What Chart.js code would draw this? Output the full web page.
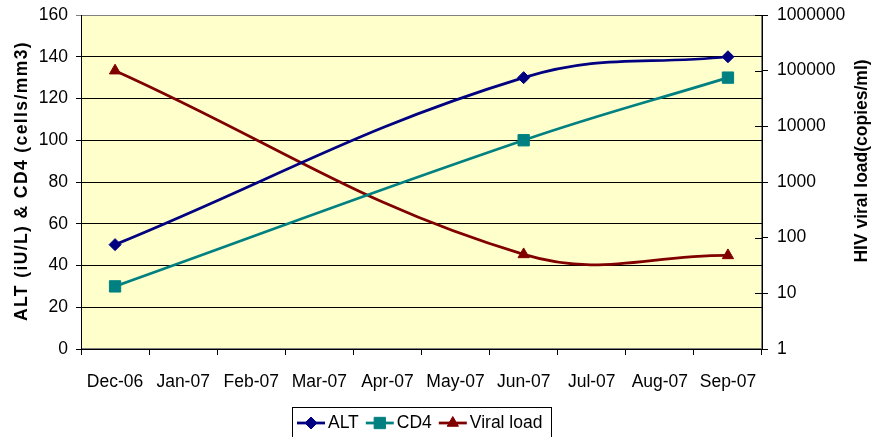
<!DOCTYPE html>
<html>
<head>
<meta charset="utf-8">
<script src="https://cdn.jsdelivr.net/npm/chart.js@4.4.1/dist/chart.umd.min.js"></script>
<style>
  html, body { margin: 0; padding: 0; background: #ffffff; }
  #wrap { width: 877px; height: 437px; }
</style>
</head>
<body>
<div id="wrap"><canvas id="hivChart" width="877" height="437"></canvas></div>
<script>
// values
const months = ['Dec-06', 'Jan-07', 'Feb-07', 'Mar-07', 'Apr-07', 'May-07', 'Jun-07', 'Jul-07', 'Aug-07', 'Sep-07'];
const altValues = [50, null, null, null, null, null, 130, null, null, 140];
const cd4Values = [30, null, null, null, null, null, 100, null, null, 130];
const viralLoad = [100000, null, null, null, null, null, 50, null, null, 48];
const leftTicks = [0, 20, 40, 60, 80, 100, 120, 140, 160];
const rightTicks = [1, 10, 100, 1000, 10000, 100000, 1000000];
const leftTitle = 'ALT (iU/L) & CD4 (cells/mm3)';
const rightTitle = 'HIV viral load(copies/ml)';

const FONT = "'Liberation Sans', Arial, sans-serif";
Chart.defaults.font.family = FONT;
Chart.defaults.font.size = 17.5;
Chart.defaults.color = '#000000';

// yellow plot area with a grey frame, like the Excel original
const plotBackground = {
    id: 'plotBackground',
    beforeDraw(chart) {
        const { ctx, chartArea: a } = chart;
        ctx.save();
        ctx.fillStyle = '#FFFFCC';
        ctx.fillRect(a.left, a.top, a.right - a.left, a.bottom - a.top);
        ctx.strokeStyle = '#808080';
        ctx.lineWidth = 1;
        ctx.strokeRect(a.left + 0.5, a.top + 0.5, a.right - a.left - 1, a.bottom - a.top - 1);
        ctx.restore();
    }
};

function upwardText(ctx, text, x, y, spacing) {
    ctx.save();
    ctx.fillStyle = '#000000';
    ctx.font = 'bold 17.5px ' + FONT;
    ctx.letterSpacing = spacing;
    ctx.textAlign = 'center';
    ctx.textBaseline = 'middle';
    ctx.translate(x, y);
    ctx.rotate(-Math.PI / 2);
    ctx.fillText(text, 0, 0);
    ctx.restore();
}

// axis titles (both read upwards), inner tick marks and the framed legend
const extras = {
    id: 'extras',
    afterDraw(chart) {
        const { ctx, chartArea: a } = chart;
        const y1 = chart.scales.y1;
        ctx.save();

        ctx.strokeStyle = '#000000';
        ctx.lineWidth = 1;
        y1.ticks.forEach(t => {
            const py = Math.round(y1.getPixelForValue(t.value)) + 0.5;
            ctx.beginPath();
            ctx.moveTo(a.right - 7, py);
            ctx.lineTo(a.right, py);
            ctx.stroke();
        });

        upwardText(ctx, leftTitle, 22, 181, '1.4px');
        upwardText(ctx, rightTitle, 862, 161, '0px');

        // legend
        ctx.strokeStyle = '#000000';
        ctx.strokeRect(292.5, 407.5, 259, 40);
        ctx.font = '17.5px ' + FONT;
        ctx.textAlign = 'left';
        ctx.textBaseline = 'middle';
        let x = 297;
        const ly = 423;
        chart.data.datasets.forEach(ds => {
            ctx.strokeStyle = ds.borderColor;
            ctx.lineWidth = 2.75;
            ctx.beginPath();
            ctx.moveTo(x, ly);
            ctx.lineTo(x + 28, ly);
            ctx.stroke();
            ctx.fillStyle = ds.borderColor;
            ctx.lineWidth = 1;
            Chart.helpers.drawPoint(ctx, {
                pointStyle: ds.pointStyle, radius: ds.pointRadius, rotation: 0, borderWidth: 1
            }, x + 14, ly);
            ctx.fillStyle = '#000000';
            ctx.fillText(ds.label, x + 31, ly);
            x += 31 + ctx.measureText(ds.label).width + 7;
        });
        ctx.restore();
    }
};

// fixed axis sizes so the plot area sits where it does in the original
function fixWidth(w) {
    return s => { s.width = w; s.paddingTop = 0; s.paddingBottom = 0; };
}

new Chart(document.getElementById('hivChart'), {
    type: 'line',
    data: {
        labels: months,
        datasets: [
            {
                label: 'ALT',
                data: altValues,
                yAxisID: 'y',
                borderColor: '#000080',
                backgroundColor: '#000080',
                pointStyle: 'rectRot',
                pointRadius: 6
            },
            {
                label: 'CD4',
                data: cd4Values,
                yAxisID: 'y',
                borderColor: '#008080',
                backgroundColor: '#008080',
                pointStyle: 'rect',
                pointRadius: 8
            },
            {
                label: 'Viral load',
                data: viralLoad,
                yAxisID: 'y1',
                borderColor: '#800000',
                backgroundColor: '#800000',
                pointStyle: 'triangle',
                pointRadius: 6.5
            }
        ]
    },
    options: {
        responsive: false,
        animation: false,
        devicePixelRatio: 1,
        spanGaps: true,
        datasets: {
            line: {
                borderWidth: 2.75,
                tension: 0.4,
                fill: false,
                pointBorderWidth: 1,
                pointHoverRadius: 6
            }
        },
        layout: { padding: { top: 15, left: 0, right: 0, bottom: 0 } },
        plugins: {
            legend: { display: false },
            tooltip: { enabled: false }
        },
        scales: {
            x: {
                offset: true,
                grid: { offset: true, drawOnChartArea: false, tickLength: 6, color: '#000000' },
                border: { color: '#000000' },
                ticks: { padding: 17, maxRotation: 0, autoSkip: false },
                afterFit: s => { s.height = 88; s.paddingLeft = 0; s.paddingRight = 0; }
            },
            y: {
                position: 'left',
                min: 0,
                max: 160,
                afterBuildTicks: s => { s.ticks = leftTicks.map(v => ({ value: v })); },
                grid: {
                    tickLength: 5,
                    color: c => (c.tick && c.tick.value === 160 ? '#808080' : '#000000')
                },
                border: { color: '#000000' },
                ticks: { padding: 8 },
                afterFit: fixWidth(81)
            },
            y1: {
                type: 'logarithmic',
                position: 'right',
                min: 1,
                max: 1000000,
                afterBuildTicks: s => { s.ticks = rightTicks.map(v => ({ value: v })); },
                grid: { drawOnChartArea: false, tickLength: 6, color: '#000000' },
                border: { color: '#000000' },
                ticks: { padding: 9, callback: v => String(v) },
                afterFit: fixWidth(115)
            }
        }
    },
    plugins: [plotBackground, extras]
});
</script>
</body>
</html>
